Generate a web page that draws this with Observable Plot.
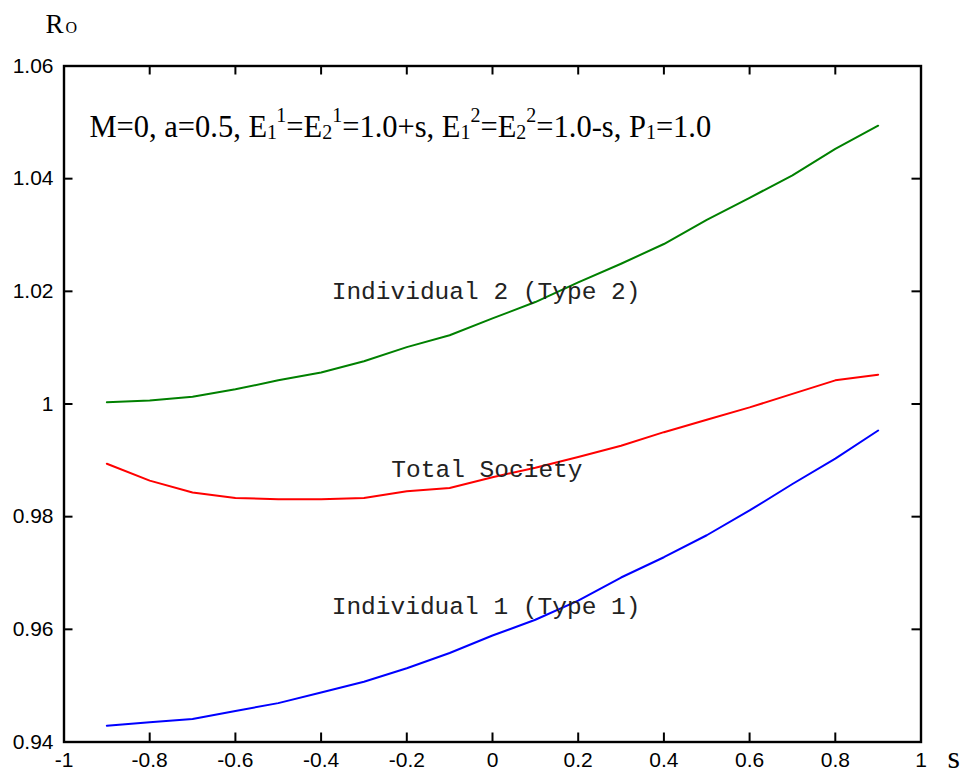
<!DOCTYPE html>
<html>
<head>
<meta charset="utf-8">
<script src="https://cdn.jsdelivr.net/npm/d3@7"></script>
<script src="https://cdn.jsdelivr.net/npm/@observablehq/plot@0.6"></script>
<style>
  html, body { margin: 0; padding: 0; background: #fff; }
  svg { display: block; }
</style>
</head>
<body>
<div id="chart"></div>
<script>
// ---- data ----
const sValues = [-0.9,-0.8,-0.7,-0.6,-0.5,-0.4,-0.3,-0.2,-0.1,0,0.1,0.2,0.3,0.4,0.5,0.6,0.7,0.8,0.9];
const individual2 = [1.0003,1.0006,1.0013,1.0026,1.0042,1.0056,1.0076,1.0101,1.0122,1.0152,1.0181,1.0216,1.0249,1.0284,1.0327,1.0366,1.0406,1.0453,1.0494];
const totalSociety = [0.9894,0.9864,0.9843,0.9833,0.9831,0.9831,0.9833,0.9845,0.9851,0.9870,0.9887,0.9906,0.9926,0.9950,0.9972,0.9994,1.0018,1.0042,1.0052];
const individual1 = [0.9429,0.9435,0.9441,0.9455,0.9469,0.9488,0.9507,0.9531,0.9558,0.9589,0.9617,0.9651,0.9692,0.9728,0.9767,0.9811,0.9858,0.9903,0.9953];

const xTicks = [-1,-0.8,-0.6,-0.4,-0.2,0,0.2,0.4,0.6,0.8,1];
const yTicks = [0.94,0.96,0.98,1,1.02,1.04,1.06];

const curveLabels = [
  {text: "Individual 2 (Type 2)", s: -0.015, v: 1.0201},
  {text: "Total Society", s: -0.013, v: 0.9884},
  {text: "Individual 1 (Type 1)", s: -0.015, v: 0.9642}
];
// annotation segments: [text, shift] shift: 0 normal, -1 subscript, 1 superscript
const annotation = [
  ["M=0, a=0.5, E",0],["1",-1],["1",1],["=E",0],["2",-1],["1",1],["=1.0+s, E",0],
  ["1",-1],["2",1],["=E",0],["2",-1],["2",1],["=1.0-s, P",0],["1",-1],["=1.0",0]
];
const yTitleMain = "R";
const yTitleSub = "O";
const xTitle = "s";

// ---- layout ----
const W = 967, H = 777;
const mL = 63.5, mR = 46.5, mT = 65.5, mB = 35.5;
const plotW = W - mL - mR, plotH = H - mT - mB;
const tick = 9;

const fmt = d => { const v = +d.toFixed(2); return (v < 0 ? "-" : "") + String(Math.abs(v)); };
const series = (vals) => sValues.map((s, i) => ({s, v: vals[i]}));
const innerX = xTicks.slice(1, -1);
const innerY = yTicks.slice(1, -1);
const annPlain = annotation.map(d => d[0]).join("");

const chart = Plot.plot({
  width: W, height: H,
  marginLeft: mL, marginRight: mR, marginTop: mT, marginBottom: mB,
  x: {domain: [-1, 1], axis: null},
  y: {domain: [0.94, 1.06], axis: null},
  style: {fontFamily: "Liberation Sans, Arial, sans-serif", fontSize: "21px", background: "#fff", color: "#000"},
  marks: [
    Plot.line(series(individual2), {x: "s", y: "v", stroke: "#008000", strokeWidth: 2}),
    Plot.line(series(totalSociety), {x: "s", y: "v", stroke: "#ff0000", strokeWidth: 2}),
    Plot.line(series(individual1), {x: "s", y: "v", stroke: "#0000ff", strokeWidth: 2}),
    // inward ticks
    Plot.tickX(innerX, {x: d => d, insetTop: plotH - tick, stroke: "#000", strokeWidth: 2}),
    Plot.tickX(innerX, {x: d => d, insetBottom: plotH - tick, stroke: "#000", strokeWidth: 2}),
    Plot.tickY(innerY, {y: d => d, insetRight: plotW - tick, stroke: "#000", strokeWidth: 2}),
    Plot.tickY(innerY, {y: d => d, insetLeft: plotW - tick, stroke: "#000", strokeWidth: 2}),
    Plot.frame({stroke: "#000", strokeWidth: 2.4}),
    // tick labels
    Plot.text(xTicks, {x: d => d, frameAnchor: "bottom", dy: 10.5, lineAnchor: "top", text: fmt, fill: "#000", fontSize: 21, fontFamily: "Liberation Sans, Arial, sans-serif"}),
    Plot.text(yTicks, {y: d => d, frameAnchor: "left", dx: -10.5, textAnchor: "end", lineAnchor: "middle", text: fmt, fill: "#000", fontSize: 21, fontFamily: "Liberation Sans, Arial, sans-serif"}),
    // curve labels
    Plot.text(curveLabels, {x: "s", y: "v", text: "text", fontFamily: "Liberation Mono, monospace", fontSize: 24.5, fill: "#222", lineAnchor: "middle"}),
    // annotation
    Plot.text([annPlain], {frameAnchor: "top-left", dx: 25.5, dy: 70.5, lineAnchor: "bottom", textAnchor: "start", text: d => d, fontFamily: "Liberation Serif, Times New Roman, serif", fontSize: 30.5, fill: "#000"}),
    // axis titles
    Plot.text([yTitleMain], {frameAnchor: "top-left", dx: -18.5, dy: -33.5, lineAnchor: "bottom", textAnchor: "start", text: d => d, fontFamily: "Liberation Serif, serif", fontSize: 27, fill: "#000"}),
    Plot.text([yTitleSub], {frameAnchor: "top-left", dx: 1.5, dy: -33.5, lineAnchor: "bottom", textAnchor: "start", text: d => d, fontFamily: "Liberation Serif, serif", fontSize: 16, fill: "#000"}),
    Plot.text([xTitle], {frameAnchor: "bottom-right", dx: 26.5, dy: 25.5, lineAnchor: "bottom", textAnchor: "start", text: d => d, fontFamily: "Liberation Serif, serif", fontSize: 32, fill: "#000"})
  ]
});

// rebuild annotation with sub/superscripts
d3.select(chart).selectAll("text").filter(function () { return this.textContent === annPlain; })
  .each(function () {
    const t = d3.select(this);
    t.text(null);
    let cur = 0;
    annotation.forEach(([str, shift]) => {
      const target = shift === -1 ? 2 : shift === 1 ? -15 : 0;
      const ts = t.append("tspan").text(str).attr("dy", target - cur);
      if (shift !== 0) ts.attr("font-size", 20);
      cur = target;
    });
  });

document.getElementById("chart").appendChild(chart);
</script>
</body>
</html>
